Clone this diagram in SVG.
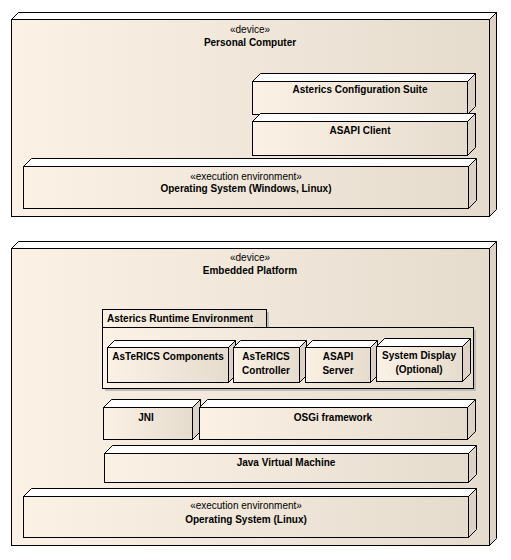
<svg xmlns="http://www.w3.org/2000/svg" width="511" height="560" viewBox="0 0 511 560">
<defs>
<linearGradient id="g" x1="0" y1="0" x2="1" y2="0">
<stop offset="0" stop-color="#FBF1E5"/>
<stop offset="1" stop-color="#E5DCCE"/>
</linearGradient>
<style>
.f{fill:url(#g);stroke:#000;stroke-width:1}
.t{fill:#fff;stroke:#000;stroke-width:1}
.s{fill:#DCD3C6;stroke:#000;stroke-width:1}
.sh{fill:#BDBDBD}
text{font-family:"Liberation Sans",Arial,sans-serif;font-size:10px;fill:#000}
.b{font-weight:bold}
.m{text-anchor:middle}
</style>
</defs>
<rect width="511" height="560" fill="#fff"/>
<g id="connectors"></g>

<g id="pc">
<polygon class="t" points="11.5,19.5 18.5,12.5 496.5,12.5 489.5,19.5"/>
<polygon class="s" points="489.5,19.5 496.5,12.5 496.5,209.5 489.5,216.5"/>
<rect class="f" x="11.5" y="19.5" width="478" height="197"/>
<text class="m" x="250" y="32.5">«device»</text>
<text class="m b" x="250" y="45.5">Personal Computer</text>
</g>

<g id="configsuite">
<polygon class="t" points="252.5,81.5 260.5,73.5 475.5,73.5 467.5,81.5"/>
<polygon class="s" points="467.5,81.5 475.5,73.5 475.5,106.5 467.5,114.5"/>
<rect class="f" x="252.5" y="81.5" width="215" height="33"/>
<text class="m b" x="360" y="93">Asterics Configuration Suite</text>
</g>

<g id="asapiclient">
<polygon class="t" points="252.5,121.5 260.5,113.5 475.5,113.5 467.5,121.5"/>
<polygon class="s" points="467.5,121.5 475.5,113.5 475.5,147.5 467.5,155.5"/>
<rect class="f" x="252.5" y="121.5" width="215" height="34"/>
<text class="m b" x="360" y="134">ASAPI Client</text>
</g>

<g id="pcos">
<polygon class="t" points="23.5,166.5 31.5,158.5 476.5,158.5 468.5,166.5"/>
<polygon class="s" points="468.5,166.5 476.5,158.5 476.5,200.5 468.5,208.5"/>
<rect class="f" x="23.5" y="166.5" width="445" height="42"/>
<text class="m" x="246" y="180">«execution environment»</text>
<text class="m b" x="246" y="191.5">Operating System (Windows, Linux)</text>
</g>

<g id="embedded">
<polygon class="t" points="11.5,248.5 18.5,241.5 496.5,241.5 489.5,248.5"/>
<polygon class="s" points="489.5,248.5 496.5,241.5 496.5,538.5 489.5,545.5"/>
<rect class="f" x="11.5" y="248.5" width="478" height="297"/>
<text class="m" x="250" y="261">«device»</text>
<text class="m b" x="250" y="274">Embedded Platform</text>
</g>

<g id="are">
<rect class="sh" x="105" y="312" width="164" height="18"/>
<rect class="sh" x="105" y="330" width="371" height="61"/>
<rect class="f" x="102.5" y="309.5" width="164" height="18"/>
<rect class="f" x="102.5" y="327.5" width="371" height="61"/>
<text class="b" x="107" y="322">Asterics Runtime Environment</text>
</g>

<g id="components">
<polygon class="t" points="107.5,347.5 114.5,340.5 235.5,340.5 228.5,347.5"/>
<polygon class="s" points="228.5,347.5 235.5,340.5 235.5,375.5 228.5,382.5"/>
<rect class="f" x="107.5" y="347.5" width="121" height="35"/>
<text class="m b" x="168" y="360">AsTeRICS Components</text>
</g>

<g id="controller">
<polygon class="t" points="233.5,347.5 240.5,340.5 306.5,340.5 299.5,347.5"/>
<polygon class="s" points="299.5,347.5 306.5,340.5 306.5,375.5 299.5,382.5"/>
<rect class="f" x="233.5" y="347.5" width="66" height="35"/>
<text class="m b" x="266" y="359.5">AsTeRICS</text>
<text class="m b" x="266" y="373.5">Controller</text>
</g>

<g id="asapiserver">
<polygon class="t" points="305.5,347.5 312.5,340.5 377.5,340.5 370.5,347.5"/>
<polygon class="s" points="370.5,347.5 377.5,340.5 377.5,375.5 370.5,382.5"/>
<rect class="f" x="305.5" y="347.5" width="65" height="35"/>
<text class="m b" x="338" y="360">ASAPI</text>
<text class="m b" x="338" y="373.5">Server</text>
</g>

<g id="sysdisplay">
<polygon class="t" points="376.5,346.5 384.5,338.5 470.5,338.5 462.5,346.5"/>
<polygon class="s" points="462.5,346.5 470.5,338.5 470.5,373.5 462.5,381.5"/>
<rect class="f" x="376.5" y="346.5" width="86" height="35"/>
<text class="m b" x="419" y="359">System Display</text>
<text class="m b" x="419" y="372.5">(Optional)</text>
</g>

<g id="jni">
<polygon class="t" points="103.5,407.5 111.5,399.5 200.5,399.5 192.5,407.5"/>
<polygon class="s" points="192.5,407.5 200.5,399.5 200.5,431.5 192.5,439.5"/>
<rect class="f" x="103.5" y="407.5" width="89" height="32"/>
<text class="m b" x="146" y="420.5">JNI</text>
</g>

<g id="osgi">
<polygon class="t" points="199.5,407.5 207.5,399.5 475.5,399.5 467.5,407.5"/>
<polygon class="s" points="467.5,407.5 475.5,399.5 475.5,431.5 467.5,439.5"/>
<rect class="f" x="199.5" y="407.5" width="268" height="32"/>
<text class="m b" x="333" y="420.5">OSGi framework</text>
</g>

<g id="jvm">
<polygon class="t" points="104.5,453.5 112.5,445.5 476.5,445.5 468.5,453.5"/>
<polygon class="s" points="468.5,453.5 476.5,445.5 476.5,474.5 468.5,482.5"/>
<rect class="f" x="104.5" y="453.5" width="364" height="29"/>
<text class="m b" x="286" y="466">Java Virtual Machine</text>
</g>

<g id="linuxos">
<polygon class="t" points="23.5,496.5 31.5,488.5 476.5,488.5 468.5,496.5"/>
<polygon class="s" points="468.5,496.5 476.5,488.5 476.5,529.5 468.5,537.5"/>
<rect class="f" x="23.5" y="496.5" width="445" height="41"/>
<text class="m" x="246" y="508.5">«execution environment»</text>
<text class="m b" x="246" y="523">Operating System (Linux)</text>
</g>
</svg>
